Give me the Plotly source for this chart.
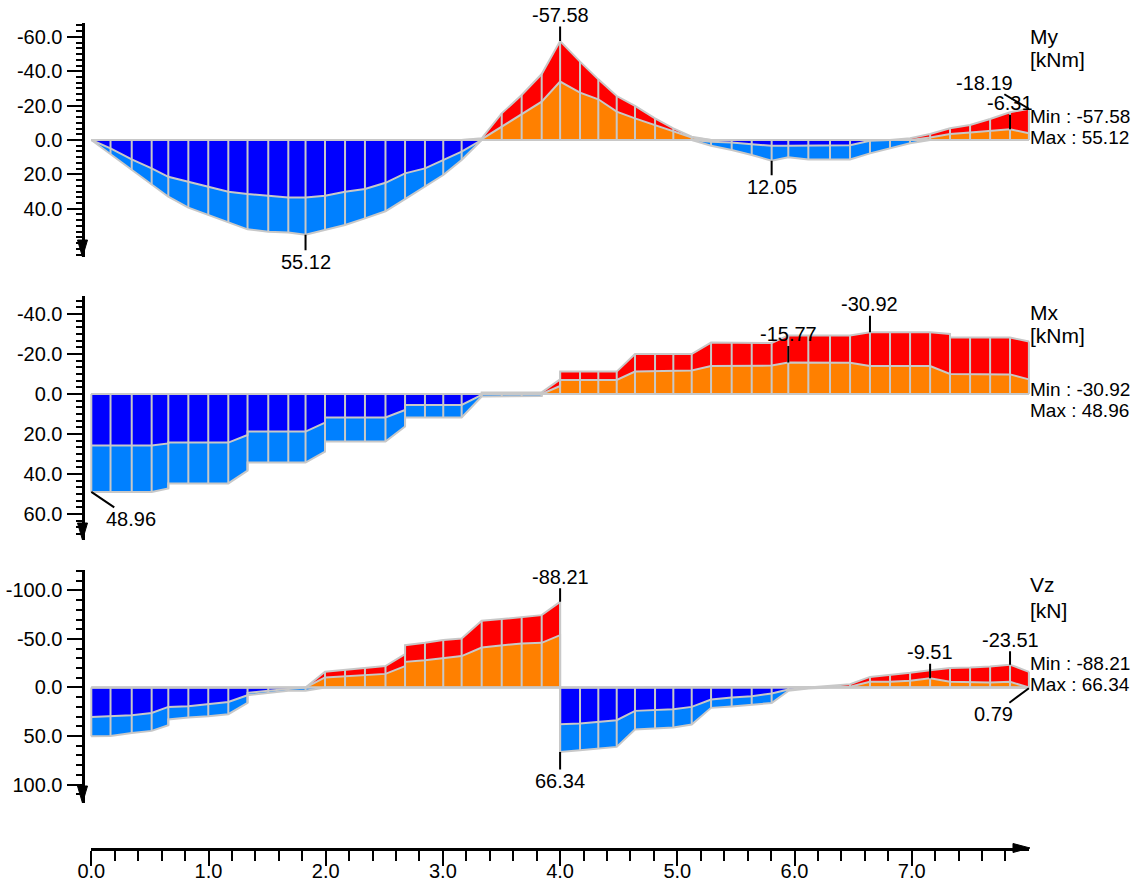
import plotly.graph_objects as go

W, H = 1142, 883

# ---------------- data ----------------
# node positions along the beam [m]
NODE_X = [0.0, 0.164, 0.345, 0.515, 0.657, 0.828, 0.998, 1.169, 1.333, 1.510,
          1.681, 1.828, 1.994, 2.165, 2.335, 2.510, 2.677, 2.847, 3.003, 3.160,
          3.331, 3.502, 3.672, 3.843, 4.0, 4.170, 4.326, 4.483, 4.639, 4.810,
          4.966, 5.123, 5.288, 5.464, 5.635, 5.805, 5.947, 6.118, 6.303, 6.474,
          6.644, 6.815, 6.986, 7.157, 7.327, 7.498, 7.669, 7.839, 8.0]

# curves: [node index, value]; a repeated node index is a jump
MY_POS_IN = [[0, 0], [1, 4.9], [2, 11.3], [3, 16.5], [4, 21.4], [5, 24.3], [6, 27.6], [7, 30.1],
             [8, 31.4], [9, 32.6], [10, 33.4], [11, 33.4], [12, 32.4], [13, 30.1], [14, 28.5],
             [15, 24.9], [16, 19.4], [17, 16.5], [18, 11.6], [19, 6.8], [20, 0], [31, 0],
             [32, 1.0], [33, 1.5], [34, 2.5], [35, 3.3], [36, 3.3], [37, 3.3], [38, 3.3],
             [39, 3.0], [40, 0.5], [41, 0], [48, 0]]
MY_POS_OUT = [[0, 0], [1, 8.2], [2, 17.3], [3, 25.9], [4, 33.0], [5, 39.4], [6, 43.7], [7, 48.2],
              [8, 52.0], [9, 53.4], [10, 53.8], [11, 55.12], [12, 52.4], [13, 49.5], [14, 45.6],
              [15, 41.5], [16, 34.4], [17, 27.2], [18, 20.4], [19, 11.6], [20, 0], [31, 0],
              [32, 3.3], [33, 5.8], [34, 8.7], [35, 12.05], [36, 10.1], [37, 11.3], [38, 11.3],
              [39, 11.3], [40, 7.8], [41, 4.9], [42, 1.9], [43, 0], [48, 0]]
MY_NEG_IN = [[0, 0], [19, 0], [20, -0.5], [21, -7.8], [22, -15.5], [23, -22.3], [24, -34.0],
             [25, -27.6], [26, -23.7], [27, -16.5], [28, -12.6], [29, -8.7], [30, -4.8],
             [31, -1.5], [32, 0], [42, 0], [43, -1.5], [44, -3.5], [45, -4.3], [46, -5.4],
             [47, -6.31], [48, -3.9]]
MY_NEG_OUT = [[0, 0], [19, 0], [20, -1.0], [21, -15.5], [22, -26.2], [23, -38.4], [24, -57.58],
              [25, -45.6], [26, -35.3], [27, -25.6], [28, -19.8], [29, -12.6], [30, -6.8],
              [31, -1.9], [32, 0], [41, 0], [42, -1.0], [43, -3.5], [44, -6.8], [45, -8.7],
              [46, -12.2], [47, -16.1], [48, -18.19]]

MX_POS_IN = [[0, 25.8], [3, 25.8], [4, 24.7], [4, 24.3], [7, 24.3], [8, 20.5], [8, 18.8],
             [11, 18.8], [12, 14.3], [12, 11.7], [15, 11.7], [16, 8.0], [16, 5.5], [19, 5.5],
             [20, 0.5], [20, 0], [48, 0]]
MX_POS_OUT = [[0, 48.96], [3, 48.96], [4, 47.2], [4, 44.7], [7, 44.7], [8, 38.3], [8, 34.3],
              [11, 34.3], [12, 28.8], [12, 23.8], [15, 23.8], [16, 16.3], [16, 11.7], [19, 11.7],
              [20, 1.3], [23, 1.0], [23, 0], [48, 0]]
MX_NEG_IN = [[0, 0], [23, 0], [24, -4.0], [24, -7.0], [27, -7.0], [28, -11.2], [31, -11.8],
             [32, -14.0], [35, -14.2], [36, -15.77], [39, -15.6], [40, -14.0], [43, -14.0],
             [44, -10.0], [47, -9.8], [48, -7.3]]
MX_NEG_OUT = [[0, 0], [20, 0], [20, -0.8], [23, -0.8], [24, -7.3], [24, -11.2], [27, -11.2],
              [28, -20.0], [31, -20.0], [32, -25.7], [35, -25.5], [36, -29.3], [39, -29.3],
              [40, -30.92], [43, -30.92], [44, -30.0], [44, -28.3], [47, -28.3], [48, -26.2]]

VZ_POS_IN = [[0, 30.3], [1, 29.6], [2, 28.6], [3, 26.2], [4, 20.0], [5, 19.4], [6, 17.3],
             [7, 14.9], [8, 8.0], [8, 5.5], [9, 3.4], [10, 1.7], [11, 0], [24, 0], [24, 37.8],
             [25, 37.1], [26, 35.4], [27, 33.7], [28, 24.1], [29, 23.4], [30, 22.4], [31, 20.0],
             [32, 12.4], [33, 10.3], [34, 9.0], [35, 6.2], [36, 2.1], [37, 0.5], [38, 0], [48, 0]]
VZ_POS_OUT = [[0, 50.36], [1, 50.0], [2, 46.8], [3, 44.7], [4, 38.9], [4, 33.0], [5, 30.9],
              [6, 29.6], [7, 27.5], [8, 15.9], [8, 7.9], [9, 5.5], [10, 3.4], [11, 3.4], [12, 0],
              [24, 0], [24, 66.34], [25, 64.6], [26, 62.9], [27, 61.2], [28, 43.3], [29, 42.3],
              [30, 41.2], [31, 38.1], [32, 21.0], [33, 19.5], [34, 18.0], [35, 16.0], [36, 3.5],
              [37, 1.0], [38, 0], [47, 0], [48, 0.79]]
VZ_NEG_IN = [[0, 0], [11, 0], [12, -10.3], [13, -11.5], [14, -12.7], [15, -14.0], [16, -22.0],
             [16, -26.4], [17, -28.1], [18, -30.5], [19, -32.3], [20, -41.2], [21, -43.6],
             [22, -45.4], [23, -46.0], [24, -53.9], [24, 0], [38, 0], [39, -0.7], [40, -5.8],
             [41, -5.8], [42, -6.9], [43, -9.51], [44, -5.8], [45, -5.1], [46, -5.1], [47, -5.8],
             [48, 0]]
VZ_NEG_OUT = [[0, 0], [11, 0], [12, -16.1], [13, -18.0], [14, -20.0], [15, -22.0], [16, -34.3],
              [16, -43.6], [17, -46.0], [18, -48.8], [19, -50.5], [20, -68.7], [21, -70.4],
              [22, -72.2], [23, -74.5], [24, -88.21], [24, 0], [37, 0], [38, -1.4], [39, -3.4],
              [40, -10.9], [41, -12.7], [42, -15.1], [43, -17.8], [44, -20.0], [45, -20.5],
              [46, -21.5], [47, -23.51], [48, -16.1]]

# labelled extreme values: [node index, value]
MY_MARKED = [[24, -57.58], [11, 55.12], [35, 12.05], [47, -6.31], [48, -18.19]]
MX_MARKED = [[0, 48.96], [36, -15.77], [40, -30.92]]
VZ_MARKED = [[24, -88.21], [24, 66.34], [43, -9.51], [47, -23.51], [48, 0.79]]

MY_TICKS = [-60, -40, -20, 0, 20, 40]
MX_TICKS = [-40, -20, 0, 20, 40, 60]
VZ_TICKS = [-100, -50, 0, 50, 100]
X_TICKS = [0, 1, 2, 3, 4, 5, 6, 7]

# ---------------- style ----------------
FONT = "Liberation Sans, Arial, sans-serif"
FS = 20
FS_MM = 19
FS_UNIT = 21
DARK_BLUE, LIGHT_BLUE = "#0000FF", "#0080FF"
RED, ORANGE = "#FF0000", "#FF8000"
GRAY = "#C8C8C8"


def px(x):
    return x / W


def py(y):
    return 1 - y / H


X0_PX, X8_PX = 91.3, 1028.9
PXM = (X8_PX - X0_PX) / 8.0
PAD = 0.05
PANEL_XDOM = [px(X0_PX - PAD * PXM), px(X8_PX + PAD * PXM)]
AXIS_X_PX = 82.5

panels = [
    dict(name="My", unit="[kNm]", curves=(MY_POS_IN, MY_POS_OUT, MY_NEG_IN, MY_NEG_OUT),
         marked=MY_MARKED, offs=[(0, -26), (0, 27), (0, 26), (0, -26), (-44, -26)],
         ticks=MY_TICKS, minor=20 / 6, dom=(23, 257), rng=(68.1, -68.1),
         lab_y=(37, 60, 116, 137)),
    dict(name="Mx", unit="[kNm]", curves=(MX_POS_IN, MX_POS_OUT, MX_NEG_IN, MX_NEG_OUT),
         marked=MX_MARKED, offs=[(40, 27), (0, -28), (0, -28)],
         ticks=MX_TICKS, minor=20 / 6, dom=(296, 540), rng=(73, -49),
         lab_y=(312, 336, 389, 410)),
    dict(name="Vz", unit="[kN]", curves=(VZ_POS_IN, VZ_POS_OUT, VZ_NEG_IN, VZ_NEG_OUT),
         marked=VZ_MARKED, offs=[(0, -25), (0, 29), (0, -26), (0, -25), (-35, 26)],
         ticks=VZ_TICKS, minor=10, dom=(570, 803), rng=(119, -121),
         lab_y=(584, 610, 663, 684)),
]


def to_xy(curve):
    return [NODE_X[k] for k, _ in curve], [v for _, v in curve]


def values_at(curve, k):
    vals = [v for kk, v in curve if kk == k]
    if vals:
        return vals
    for i in range(len(curve) - 1):
        k0, v0 = curve[i]
        k1, v1 = curve[i + 1]
        if k0 < k < k1:
            t = (NODE_X[k] - NODE_X[k0]) / (NODE_X[k1] - NODE_X[k0])
            return [v0 + t * (v1 - v0)]
    return [0.0]


fig = go.Figure()
annotations = []
shapes = []
layout_axes = {}

for i, p in enumerate(panels):
    n = "" if i == 0 else str(i + 1)
    xa, ya = "x" + n, "y" + n
    pos_in, pos_out, neg_in, neg_out = p["curves"]

    for inner, outer, c_in, c_out in ((pos_in, pos_out, DARK_BLUE, LIGHT_BLUE),
                                      (neg_in, neg_out, ORANGE, RED)):
        xi, vi = to_xy(inner)
        xo, vo = to_xy(outer)
        fig.add_trace(go.Scatter(x=xi, y=vi, xaxis=xa, yaxis=ya, mode="lines",
                                 line=dict(width=0), fill="tozeroy", fillcolor=c_in,
                                 hoverinfo="skip"))
        fig.add_trace(go.Scatter(x=xo, y=vo, xaxis=xa, yaxis=ya, mode="lines",
                                 line=dict(width=0), fill="tonexty", fillcolor=c_out,
                                 hoverinfo="skip"))

    # gray outlines
    lx, ly = [], []
    for c in (pos_in, pos_out, neg_in, neg_out):
        cx, cy = to_xy(c)
        lx += cx + [None]
        ly += cy + [None]
    for k in range(len(NODE_X)):
        top = max(values_at(pos_out, k))
        bot = min(values_at(neg_out, k))
        if top > 0:
            lx += [NODE_X[k], NODE_X[k], None]
            ly += [0, top, None]
        if bot < 0:
            lx += [NODE_X[k], NODE_X[k], None]
            ly += [0, bot, None]
    lx += [NODE_X[0], NODE_X[-1]]
    ly += [0, 0]
    fig.add_trace(go.Scatter(x=lx, y=ly, xaxis=xa, yaxis=ya, mode="lines",
                             line=dict(color=GRAY, width=2), connectgaps=False,
                             hoverinfo="skip"))

    # axes
    top_px, bot_px = p["dom"]
    layout_axes["xaxis" + n] = dict(domain=PANEL_XDOM, range=[-PAD, 8 + PAD], visible=False,
                                    anchor=ya, fixedrange=True, automargin=False)
    layout_axes["yaxis" + n] = dict(
        domain=[py(bot_px), py(top_px)], range=list(p["rng"]), anchor="free",
        position=px(AXIS_X_PX), showline=True, linecolor="black", linewidth=3,
        showgrid=False, zeroline=False, ticks="outside", ticklen=15, tickwidth=2,
        tickcolor="black", tickmode="array", tickvals=p["ticks"],
        ticktext=["%.1f" % t for t in p["ticks"]],
        tickfont=dict(family=FONT, size=FS, color="black"),
        minor=dict(ticks="outside", ticklen=6, tickwidth=2, tickcolor="black",
                   dtick=p["minor"], tick0=0, showgrid=False),
        fixedrange=True, automargin=False)

    # y-axis arrow
    shapes.append(dict(type="path", xref="paper", yref="paper",
                       path="M %f %f L %f %f L %f %f Z" % (
                           px(AXIS_X_PX - 5), py(bot_px - 17), px(AXIS_X_PX + 5), py(bot_px - 17),
                           px(AXIS_X_PX), py(bot_px)),
                       fillcolor="black", line=dict(color="black", width=1)))

    # marked values
    for (k, v), (ax, ay) in zip(p["marked"], p["offs"]):
        annotations.append(dict(x=NODE_X[k], y=v, xref=xa, yref=ya, text="%.2f" % v,
                                showarrow=True, arrowhead=0, arrowwidth=2, arrowcolor="black",
                                ax=ax, ay=ay, standoff=0, borderpad=0,
                                font=dict(family=FONT, size=FS, color="black")))

    # right-side labels
    vmin = min(v for _, v in neg_out)
    vmax = max(v for _, v in pos_out)
    texts = [p["name"], p["unit"], "Min : %.2f" % vmin, "Max : %.2f" % vmax]
    sizes = [FS_UNIT, FS_UNIT, FS_MM, FS_MM]
    for t, yy, s in zip(texts, p["lab_y"], sizes):
        annotations.append(dict(x=px(1029), y=py(yy), xref="paper", yref="paper", text=t,
                                showarrow=False, xanchor="left", yanchor="middle",
                                borderpad=0,
                                font=dict(family=FONT, size=s, color="black")))

# bottom x axis
layout_axes["xaxis4"] = dict(
    domain=[px(X0_PX), px(X8_PX)], range=[0, 8], anchor="y4", side="bottom",
    showline=True, linecolor="black", linewidth=2.5, showgrid=False, zeroline=False,
    ticks="outside", ticklen=15, tickwidth=2, tickcolor="black", tickmode="array",
    tickvals=X_TICKS, ticktext=["%.1f" % t for t in X_TICKS], ticklabelstandoff=-12,
    tickfont=dict(family=FONT, size=FS, color="black"),
    minor=dict(ticks="outside", ticklen=10, tickwidth=2, tickcolor="black", tickmode="array",
               tickvals=[t / 5 for t in range(1, 40) if t % 5], showgrid=False),
    fixedrange=True, automargin=False)
layout_axes["yaxis4"] = dict(domain=[py(848), py(846)], visible=False, range=[0, 1],
                             anchor="x4", fixedrange=True, automargin=False)
fig.add_trace(go.Scatter(x=[0], y=[2], xaxis="x4", yaxis="y4", mode="markers",
                         marker=dict(size=0.1, color="rgba(0,0,0,0)"), hoverinfo="skip"))
# x-axis arrow
shapes.append(dict(type="path", xref="paper", yref="paper",
                   path="M %f %f L %f %f L %f %f Z" % (
                       px(1013), py(843.5), px(1013), py(852.5), px(1030), py(848)),
                   fillcolor="black", line=dict(color="black", width=1)))

fig.update_layout(
    width=W, height=H, autosize=False, margin=dict(l=0, r=0, t=0, b=0, autoexpand=False),
    paper_bgcolor="white", plot_bgcolor="rgba(0,0,0,0)", showlegend=False,
    annotations=annotations, shapes=shapes, font=dict(family=FONT, size=FS, color="black"),
    **layout_axes)

fig.write_html("out.html")
